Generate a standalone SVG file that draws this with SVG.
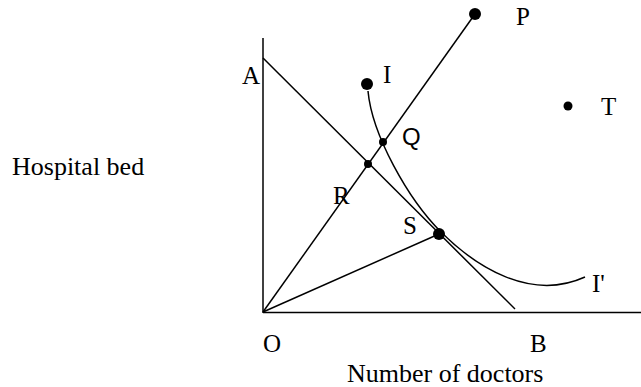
<svg xmlns="http://www.w3.org/2000/svg" width="641" height="387" viewBox="0 0 641 387">
<style>
.ln{stroke:#000;stroke-width:1.5;fill:none}
.t{font-family:"Liberation Serif","Times New Roman",serif;font-size:25px;fill:#000}
.big{font-size:26px}
.s{font-family:"Liberation Sans",Arial,sans-serif;font-size:24px;fill:#000}
.d{fill:#000}
</style>
<rect width="641" height="387" fill="#fff"/>
<g id="connectors">
<line class="ln" x1="263" y1="38" x2="263" y2="313"/>
<line class="ln" x1="263" y1="312.5" x2="641" y2="312.5"/>
<line class="ln" x1="263" y1="58" x2="515" y2="309"/>
<line class="ln" x1="263" y1="312" x2="475" y2="14"/>
<line class="ln" x1="263" y1="312" x2="439" y2="234"/>
<path id="curve" class="ln" d="M368,91 C372,135 408,199 441,232 C475,266 530,302 585,277"/>
</g>
<g id="P"><circle class="d" cx="475" cy="14" r="6"/><text class="t" x="516" y="25">P</text></g>
<g id="I"><circle class="d" cx="367" cy="84" r="6"/><text class="t" x="383" y="83">I</text></g>
<g id="A"><text class="t" x="242" y="84">A</text></g>
<g id="Q"><circle class="d" cx="383" cy="142" r="4"/><text class="s" x="402" y="145">Q</text></g>
<g id="R"><circle class="d" cx="368" cy="164" r="4"/><text class="t" x="333" y="204">R</text></g>
<g id="S"><circle class="d" cx="439" cy="234" r="6"/><text class="t" x="403" y="234">S</text></g>
<g id="T"><circle class="d" cx="568" cy="106" r="4.5"/><text class="t" x="601" y="115">T</text></g>
<g id="Iprime"><text class="t" x="592" y="292">I'</text></g>
<g id="O"><text class="t" x="263" y="352">O</text></g>
<g id="B"><text class="t" x="530" y="352">B</text></g>
<g id="ylabel"><text class="t big" x="12" y="175">Hospital bed</text></g>
<g id="xlabel"><text class="t big" x="347" y="382">Number of doctors</text></g>
</svg>
